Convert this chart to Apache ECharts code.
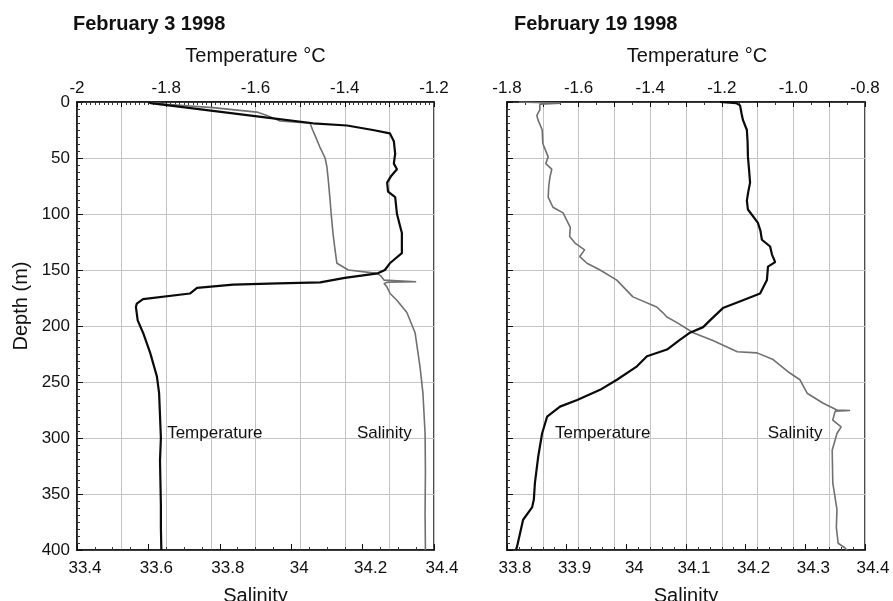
<!DOCTYPE html>
<html><head><meta charset="utf-8">
<script src="https://cdn.jsdelivr.net/npm/echarts@6/dist/echarts.min.js"></script>
<style>html,body{margin:0;padding:0;background:#fff}#c{width:893px;height:601px}</style>
</head><body><div id="c"></div>
<script>
// ---------- Data ----------
var titles = ['February 3 1998', 'February 19 1998'];

// Feb 3 1998 — temperature profile
var feb3TempDepth = [0,1,14,19,21,25,28,35,46,55,60,66,72,80,85,100,117,135,144,150,153,157,161,162,163,166,171,176,180,183,195,206,224,245,260,280,300,320,340,360,380,400];
var feb3Temp =      [-1.84,-1.835,-1.574,-1.471,-1.395,-1.337,-1.299,-1.29,-1.287,-1.29,-1.283,-1.296,-1.305,-1.303,-1.287,-1.283,-1.272,-1.272,-1.299,-1.31,-1.326,-1.40,-1.455,-1.55,-1.65,-1.731,-1.747,-1.852,-1.866,-1.868,-1.864,-1.852,-1.836,-1.821,-1.816,-1.814,-1.812,-1.814,-1.813,-1.812,-1.812,-1.811];

// Feb 3 1998 — salinity profile
var feb3SalDepth = [0,2,5,9,12,17,19,25,30,40,50,58,70,88,100,117,130,144,150,153,155,159,160.5,161,162,165,171,177,188,206,237,260,296,330,367,400];
var feb3Sal =      [33.60,33.65,33.78,33.904,33.932,33.969,34.053,34.06,34.067,34.08,34.095,34.10,34.104,34.109,34.112,34.117,34.122,34.128,34.16,34.24,34.25,34.26,34.35,34.27,34.26,34.268,34.277,34.296,34.324,34.347,34.361,34.369,34.375,34.376,34.375,34.376];

// Feb 19 1998 — temperature profile
var feb19TempDepth = [0,1,3,10,16,25,35,49,60,72,80,88,96,108,115,123,129,136,143,147,159,171,177,184,195,201,206,213,221,227,236,248,257,266,272,281,296,317,340,355,362,373,397,400];
var feb19Temp =      [-1.205,-1.16,-1.149,-1.145,-1.141,-1.130,-1.128,-1.127,-1.124,-1.121,-1.126,-1.130,-1.127,-1.099,-1.092,-1.088,-1.065,-1.06,-1.051,-1.071,-1.074,-1.093,-1.141,-1.197,-1.233,-1.252,-1.289,-1.32,-1.353,-1.409,-1.437,-1.493,-1.540,-1.604,-1.652,-1.688,-1.702,-1.713,-1.722,-1.725,-1.730,-1.755,-1.772,-1.775];

// Feb 19 1998 — salinity profile
var feb19SalDepth = [0,1,2,7,12,16,25,37,49,55,60,67,75,85,94,99,112,120,126,132,138,144,150,159,174,183,188,192,197,206,213,223,224,230,242,248,260,269,275,275.5,276,284,290,296,311,340,364,380,394,398,400];
var feb19Sal =      [33.82,33.89,33.855,33.855,33.85,33.852,33.859,33.860,33.869,33.865,33.875,33.872,33.87,33.869,33.877,33.894,33.906,33.905,33.914,33.93,33.922,33.934,33.956,33.984,34.011,34.051,34.061,34.068,34.085,34.112,34.145,34.186,34.219,34.246,34.274,34.291,34.303,34.330,34.353,34.375,34.350,34.346,34.36,34.353,34.345,34.346,34.353,34.352,34.355,34.366,34.37];

// In-plot curve labels: [x value, depth]
var feb3TempLabel = [-1.798, 296];
var feb3SalLabel = [34.184, 296];
var feb19TempLabel = [-1.666, 296];
var feb19SalLabel = [34.237, 296];

// ---------- Chart ----------
function pairs(xs, ys) { var o = []; for (var i = 0; i < xs.length; i++) o.push([xs[i], ys[i]]); return o; }
var FONT = 'Liberation Sans, Arial, Helvetica, sans-serif';
var GRIDC = '#c4c4c4';

function tempAxis(grid, min, max, fmt, minorSplit, namePad) {
  return {
    type: 'value', gridIndex: grid, position: 'top', min: min, max: max, interval: 0.1,
    name: 'Temperature °C', nameLocation: 'middle', nameGap: 36,
    nameTextStyle: { fontFamily: FONT, fontSize: 20, color: '#111', padding: namePad },
    axisLine: { show: true, onZero: false, lineStyle: { color: '#111', width: 1.5 } },
    axisTick: { show: true, inside: true, length: 5, lineStyle: { color: '#111' } },
    minorTick: { show: true, splitNumber: minorSplit, length: 3, lineStyle: { color: '#333' } },
    axisLabel: { fontFamily: FONT, fontSize: 17, color: '#111', margin: 5,
      formatter: function (v) { return Math.abs(Math.round(v * 10)) % 2 === 0 ? fmt(v) : ''; } },
    splitLine: { show: true, lineStyle: { color: GRIDC, width: 1 } }
  };
}
function salAxis(grid, min, max, interval, minorSplit) {
  return {
    type: 'value', gridIndex: grid, position: 'bottom', min: min, max: max, interval: interval,
    name: 'Salinity', nameLocation: 'middle', nameGap: 36,
    nameTextStyle: { fontFamily: FONT, fontSize: 20, color: '#111' },
    axisLine: { show: true, onZero: false, lineStyle: { color: '#111', width: 1.5 } },
    axisTick: { show: true, inside: true, length: 6, lineStyle: { color: '#111' } },
    minorTick: { show: true, splitNumber: minorSplit, length: 3, lineStyle: { color: '#333' } },
    axisLabel: { fontFamily: FONT, fontSize: 17, color: '#111', margin: 10, padding: [0, 0, 0, 16] },
    splitLine: { show: false }
  };
}
function depthAxis(grid, showLabels) {
  return {
    type: 'value', gridIndex: grid, inverse: true, min: 0, max: 400, interval: 50,
    name: showLabels ? 'Depth (m)' : '', nameLocation: 'middle', nameGap: 46,
    nameTextStyle: { fontFamily: FONT, fontSize: 20, color: '#111', padding: [0, 0, 0, 40] },
    axisLine: { show: true, onZero: false, lineStyle: { color: '#111', width: 1.5 } },
    axisTick: { show: true, inside: true, length: 6, lineStyle: { color: '#111' } },
    minorTick: { show: true, splitNumber: 8, length: 3, lineStyle: { color: '#333' } },
    axisLabel: { show: showLabels, fontFamily: FONT, fontSize: 17, color: '#111', margin: 7 },
    splitLine: { show: true, lineStyle: { color: GRIDC, width: 1 } }
  };
}
function fmtShort(v) { return String(Math.round(v * 10) / 10); }
function fmtFixed(v) { return (Math.round(v * 10) / 10).toFixed(1); }

var chart = echarts.init(document.getElementById('c'), null, { renderer: 'canvas' });
var TEMPC = '#0a0a0a', SALC = '#707070';
chart.setOption({
  animation: false,
  backgroundColor: '#fff',
  title: [
    { text: titles[0], left: 68, top: 9, textStyle: { fontFamily: FONT, fontSize: 20, fontWeight: 'bold', color: '#111' } },
    { text: titles[1], left: 509, top: 9, textStyle: { fontFamily: FONT, fontSize: 20, fontWeight: 'bold', color: '#111' } }
  ],
  grid: [
    { left: 77, top: 102, width: 357, height: 448, show: true, borderColor: '#111', borderWidth: 1.5, outerBoundsMode: 'none', containLabel: false },
    { left: 507, top: 102, width: 358, height: 448, show: true, borderColor: '#111', borderWidth: 1.5, outerBoundsMode: 'none', containLabel: false }
  ],
  xAxis: [
    tempAxis(0, -2, -1.2, fmtShort, 10, [0, 0, 0, 0]),
    salAxis(0, 33.4, 34.4, 0.2, 4),
    tempAxis(1, -1.8, -0.8, fmtFixed, 2, [0, 0, 0, 22]),
    salAxis(1, 33.8, 34.4, 0.1, 5)
  ],
  yAxis: [depthAxis(0, true), depthAxis(1, false)],
  series: [
    { type: 'line', xAxisIndex: 1, yAxisIndex: 0, data: pairs(feb3Sal, feb3SalDepth), showSymbol: false, lineStyle: { color: SALC, width: 1.6 }, z: 2 },
    { type: 'line', xAxisIndex: 0, yAxisIndex: 0, data: pairs(feb3Temp, feb3TempDepth), showSymbol: false, lineStyle: { color: TEMPC, width: 2.2 }, z: 3 },
    { type: 'line', xAxisIndex: 3, yAxisIndex: 1, data: pairs(feb19Sal, feb19SalDepth), showSymbol: false, lineStyle: { color: SALC, width: 1.6 }, z: 2 },
    { type: 'line', xAxisIndex: 2, yAxisIndex: 1, data: pairs(feb19Temp, feb19TempDepth), showSymbol: false, lineStyle: { color: TEMPC, width: 2.2 }, z: 3 }
  ]
});

function lbl(text, xAxisIndex, yAxisIndex, pt) {
  var p = chart.convertToPixel({ xAxisIndex: xAxisIndex, yAxisIndex: yAxisIndex }, pt);
  return { type: 'text', x: p[0], y: p[1], z: 10,
    style: { text: text, fontFamily: FONT, fontSize: 17, fill: '#111', textAlign: 'left', textVerticalAlign: 'middle' } };
}
chart.setOption({ graphic: [
  lbl('Temperature', 0, 0, feb3TempLabel),
  lbl('Salinity', 1, 0, feb3SalLabel),
  lbl('Temperature', 2, 1, feb19TempLabel),
  lbl('Salinity', 3, 1, feb19SalLabel)
] });
</script></body></html>
